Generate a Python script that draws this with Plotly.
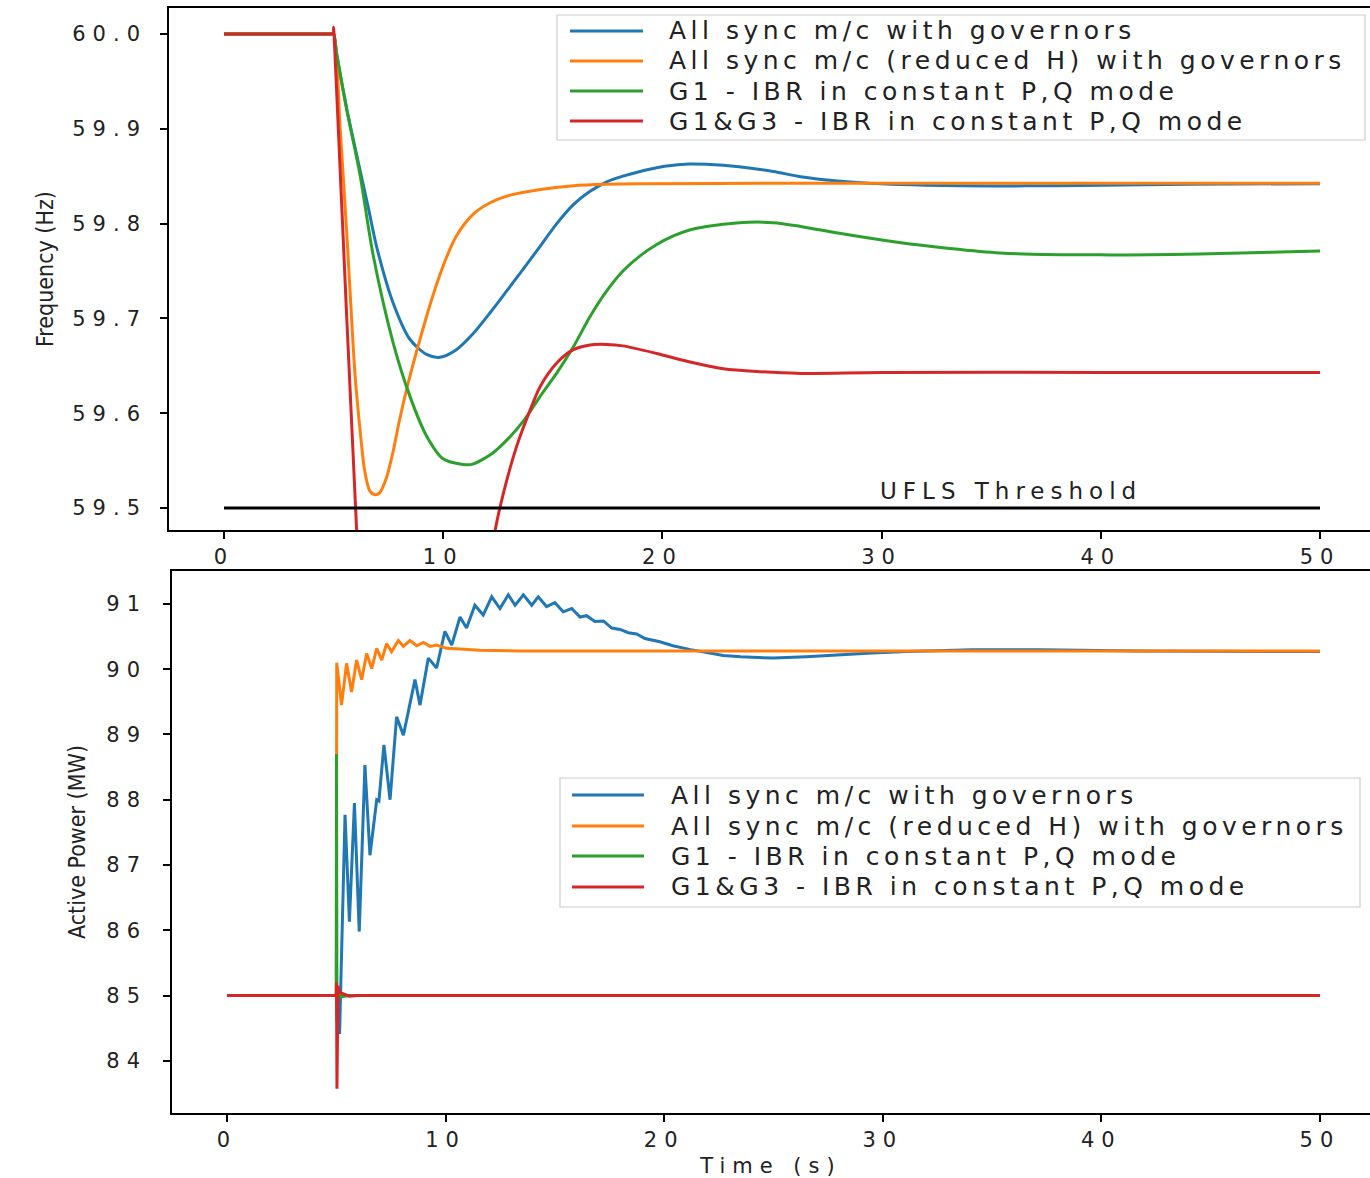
import plotly.graph_objects as go

W, H = 1370, 1178

series_names = [
    "All sync m/c with governors",
    "All sync m/c (reduced H) with governors",
    "G1 - IBR in constant P,Q mode",
    "G1&G3 - IBR in constant P,Q mode",
]
colors = ["#1f77b4", "#ff7f0e", "#2ca02c", "#d62728"]

# ---------------- Frequency (Hz) ----------------
t_f_blue = [0, 4.9, 5.0, 5.14, 5.6, 6.2, 6.6, 6.97, 7.72, 8.48, 9.24, 9.85, 10.6, 11.37, 12.14,
            12.9, 13.65, 14.42, 15.18, 15.94, 16.7, 17.46, 18.2, 18.98, 19.74, 20.5, 21.2,
            22.0, 23.5, 25.06, 26.3, 28.0, 30.0, 32.0, 35.0, 38.0, 42.0, 46.0, 50.0]
f_blue = [60.0, 60.0, 60.0, 59.979, 59.921, 59.857, 59.815, 59.775, 59.716, 59.678, 59.662, 59.659,
          59.667, 59.684, 59.706, 59.729, 59.752, 59.776, 59.800, 59.820, 59.834, 59.844,
          59.850, 59.855, 59.859, 59.8615, 59.8628, 59.8625, 59.860, 59.855, 59.8495, 59.845,
          59.842, 59.8405, 59.8397, 59.840, 59.841, 59.8418, 59.842]

t_f_orange = [0, 4.9, 5.0, 5.3, 5.6, 5.98, 6.2, 6.42, 6.65, 6.9, 7.1, 7.4, 7.72, 8.0, 8.33, 8.63,
              8.87, 9.24, 9.6, 9.85, 10.16, 10.6, 11.37, 12.14, 12.9, 14.42, 15.94, 17.46,
              19.0, 25.0, 35.0, 50.0]
f_orange = [60.0, 60.0, 60.0, 59.90, 59.79, 59.64, 59.584, 59.539, 59.518, 59.514, 59.516, 59.531,
            59.560, 59.592, 59.625, 59.652, 59.672, 59.702, 59.729, 59.746, 59.765, 59.787,
            59.810, 59.822, 59.829, 59.836, 59.840, 59.8415, 59.842, 59.8425, 59.8425, 59.8425]

t_f_green = [0, 4.9, 5.0, 5.14, 5.6, 6.2, 6.81, 7.72, 8.48, 9.24, 9.99, 10.9, 11.3, 12.2, 13.0,
             13.7, 14.4, 15.2, 15.94, 16.7, 17.46, 18.2, 18.98, 19.74, 20.5, 21.2, 22.0, 23.5,
             25.06, 26.3, 28.0, 30.8, 33.0, 35.4, 40.0, 44.5, 50.0]
f_green = [60.0, 60.0, 60.0, 59.979, 59.92, 59.852, 59.766, 59.674, 59.618, 59.576, 59.552, 59.546,
           59.546, 59.557, 59.574, 59.593, 59.617, 59.643, 59.670, 59.702, 59.729, 59.750,
           59.766, 59.778, 59.787, 59.793, 59.797, 59.801, 59.801, 59.797, 59.790, 59.780,
           59.774, 59.769, 59.767, 59.768, 59.771]

t_f_red = [0, 4.9, 4.98, 5.0, 5.02, 5.1, 6.04, 6.5, 7.0, 8.0, 9.0, 10.0, 11.0, 11.8, 12.36, 12.74,
           13.35, 13.96, 14.42, 15.18, 15.94, 16.7, 17.46, 18.2, 19.74, 21.26, 22.78, 24.3,
           26.3, 30.0, 40.0, 50.0]
f_red = [60.0, 60.0, 60.0, 60.007, 60.0, 59.96, 59.482, 59.30, 59.17, 59.06, 59.04, 59.09, 59.21,
         59.37, 59.475, 59.515, 59.565, 59.603, 59.628, 59.653, 59.667, 59.672, 59.6725, 59.671,
         59.663, 59.654, 59.647, 59.644, 59.642, 59.643, 59.643, 59.643]

ufls_t = [0, 50]
ufls_f = [59.5, 59.5]
ufls_label = "UFLS Threshold"

# ---------------- Active power (MW) ----------------
t_p_blue = [0, 5.0, 5.15, 5.40, 5.60, 5.83, 6.05, 6.31, 6.54, 6.85, 6.95, 7.18, 7.46, 7.76,
            8.07, 8.60, 8.83, 9.21, 9.59, 9.97, 10.28, 10.66, 10.96, 11.34, 11.72, 12.11,
            12.49, 12.87, 13.18, 13.56, 13.94, 14.24, 14.62, 15.0, 15.38, 15.77, 16.15,
            16.45, 16.83, 17.22, 17.6, 17.98, 18.36, 18.74, 19.12, 19.8, 20.4, 21.2, 21.9,
            22.7, 23.5, 25.0, 26.5, 28.0, 29.5, 31.1, 34.1, 37.2, 41.8, 50.0]
p_blue = [85.0, 85.0, 84.41, 87.77, 86.13, 87.95, 85.98, 88.53, 87.15, 88.0, 87.98, 88.84,
          88.0, 89.27, 88.99, 89.84, 89.45, 90.17, 90.02, 90.58, 90.37, 90.80, 90.63, 90.98,
          90.83, 91.11, 90.93, 91.14, 90.98, 91.14, 90.98, 91.11, 90.96, 91.02, 90.88, 90.93,
          90.80, 90.82, 90.73, 90.74, 90.63, 90.61, 90.56, 90.54, 90.47, 90.42, 90.36, 90.30,
          90.26, 90.21, 90.19, 90.17, 90.19, 90.22, 90.25, 90.27, 90.30, 90.30, 90.28, 90.27]

t_p_orange = [0, 5.0, 5.02, 5.24, 5.47, 5.70, 5.93, 6.16, 6.39, 6.62, 6.85, 7.08, 7.30, 7.53,
              7.84, 8.07, 8.37, 8.68, 8.98, 9.29, 9.59, 10.05, 10.66, 11.57, 13.4, 50.0]
p_orange = [85.0, 85.0, 90.10, 89.45, 90.09, 89.65, 90.14, 89.84, 90.24, 90.01, 90.32, 90.14,
            90.39, 90.27, 90.44, 90.35, 90.44, 90.36, 90.41, 90.35, 90.37, 90.32, 90.31, 90.29,
            90.28, 90.28]

t_p_green = [0, 5.0, 5.01, 5.03, 5.08, 5.2, 5.6, 50.0]
p_green = [85.0, 85.0, 88.7, 84.6, 85.1, 84.98, 85.0, 85.0]

t_p_red = [0, 5.0, 5.01, 5.03, 5.08, 5.15, 5.3, 5.6, 6.0, 50.0]
p_red = [85.0, 85.0, 85.2, 83.57, 85.15, 85.05, 85.03, 84.99, 85.0, 85.0]

x_ticks = [0, 10, 20, 30, 40, 50]
f_ticks = [59.5, 59.6, 59.7, 59.8, 59.9, 60.0]
p_ticks = [84, 85, 86, 87, 88, 89, 90, 91]


def sp(text, ls):
    return f'<span style="letter-spacing:{ls}px">{text}</span>'


TICKFONT = dict(family="DejaVu Sans", size=21, color="#222")
TITLEFONT = dict(family="Liberation Sans Narrow, DejaVu Sans Condensed, sans-serif",
                 size=23, color="#222")
LW = 3
fig = go.Figure()

freq_sets = [(t_f_blue, f_blue), (t_f_orange, f_orange), (t_f_green, f_green), (t_f_red, f_red)]
pow_sets = [(t_p_blue, p_blue), (t_p_orange, p_orange), (t_p_green, p_green), (t_p_red, p_red)]

for (tt, ff), name, c in zip(freq_sets, series_names, colors):
    fig.add_trace(go.Scatter(x=tt, y=ff, mode="lines", name=name, showlegend=False,
                             line=dict(color=c, width=LW, shape="spline", smoothing=0.8),
                             xaxis="x", yaxis="y"))
fig.add_trace(go.Scatter(x=ufls_t, y=ufls_f, mode="lines", name=ufls_label, showlegend=False,
                         line=dict(color="black", width=LW), xaxis="x", yaxis="y"))
for (tt, pp), name, c in zip(pow_sets, series_names, colors):
    fig.add_trace(go.Scatter(x=tt, y=pp, mode="lines", name=name, showlegend=False,
                             line=dict(color=c, width=LW), xaxis="x2", yaxis="y2"))


def px_x(v):
    return v / W


def px_y(v):
    return 1 - v / H


axis_common = dict(showline=True, linecolor="black", linewidth=1.6, ticks="outside",
                   ticklen=7, tickwidth=1.5, tickcolor="black", showgrid=False,
                   zeroline=False, tickfont=TICKFONT)

fig.update_layout(
    width=W, height=H,
    margin=dict(l=0, r=0, t=0, b=0),
    paper_bgcolor="white", plot_bgcolor="white",
    showlegend=False,
    xaxis=dict(domain=[px_x(169), 1], range=[-2.509, 52.28], anchor="y", mirror=True,
               tickvals=x_ticks, ticktext=[sp(str(v), 7) for v in x_ticks],
               ticklabelstandoff=0, **axis_common),
    yaxis=dict(domain=[px_y(530), px_y(8)], range=[59.4768, 60.0274], anchor="x",
               tickvals=f_ticks, ticktext=[sp(f"{v:.1f}", 7) for v in f_ticks],
               ticklabelstandoff=9,
               title=dict(text="Frequency (Hz)", standoff=12, font=TITLEFONT),
               **axis_common),
    xaxis2=dict(domain=[px_x(172), 1], range=[-2.516, 52.29], anchor="y2", mirror=True,
                tickvals=x_ticks, ticktext=[sp(str(v), 7) for v in x_ticks],
                ticklabelstandoff=0,
                title=dict(text=sp("Time (s)", 7), standoff=11,
                           font=dict(family="DejaVu Sans", size=21, color="#222")),
                **axis_common),
    yaxis2=dict(domain=[px_y(1113), px_y(571)], range=[83.20, 91.505], anchor="x2",
                tickvals=p_ticks, ticktext=[sp(str(v), 7) for v in p_ticks],
                ticklabelstandoff=12,
                title=dict(text="Active Power (MW)", standoff=14, font=TITLEFONT),
                **axis_common),
)

# UFLS threshold label
fig.add_annotation(x=35.9, y=59.518, xref="x", yref="y", text=sp(ufls_label, 6),
                   showarrow=False, xanchor="center", yanchor="middle",
                   font=dict(family="DejaVu Sans", size=23, color="#222"))

# Legends (one per panel)
legend_boxes = [
    dict(x0=557, x1=1365, y0=15, y1=140, line_x0=570, line_x1=643, text_x=667,
         rows=[31, 61, 91, 121]),
    dict(x0=560, x1=1360, y0=778, y1=907, line_x0=572, line_x1=644, text_x=669,
         rows=[795, 826, 856, 887]),
]
shapes = []
for lb in legend_boxes:
    shapes.append(dict(type="rect", xref="paper", yref="paper",
                       x0=px_x(lb["x0"]), x1=px_x(lb["x1"]),
                       y0=px_y(lb["y1"]), y1=px_y(lb["y0"]),
                       line=dict(color="#cccccc", width=1.2),
                       fillcolor="rgba(255,255,255,0.85)", layer="above"))
    for name, c, ry in zip(series_names, colors, lb["rows"]):
        shapes.append(dict(type="line", xref="paper", yref="paper",
                           x0=px_x(lb["line_x0"]), x1=px_x(lb["line_x1"]),
                           y0=px_y(ry), y1=px_y(ry),
                           line=dict(color=c, width=LW), layer="above"))
        fig.add_annotation(x=px_x(lb["text_x"]), y=px_y(ry), xref="paper", yref="paper",
                           text=sp(name, 4.5), showarrow=False, xanchor="left",
                           yanchor="middle",
                           font=dict(family="DejaVu Sans", size=25, color="#222"))
fig.update_layout(shapes=shapes)

fig.write_html("out.html")
